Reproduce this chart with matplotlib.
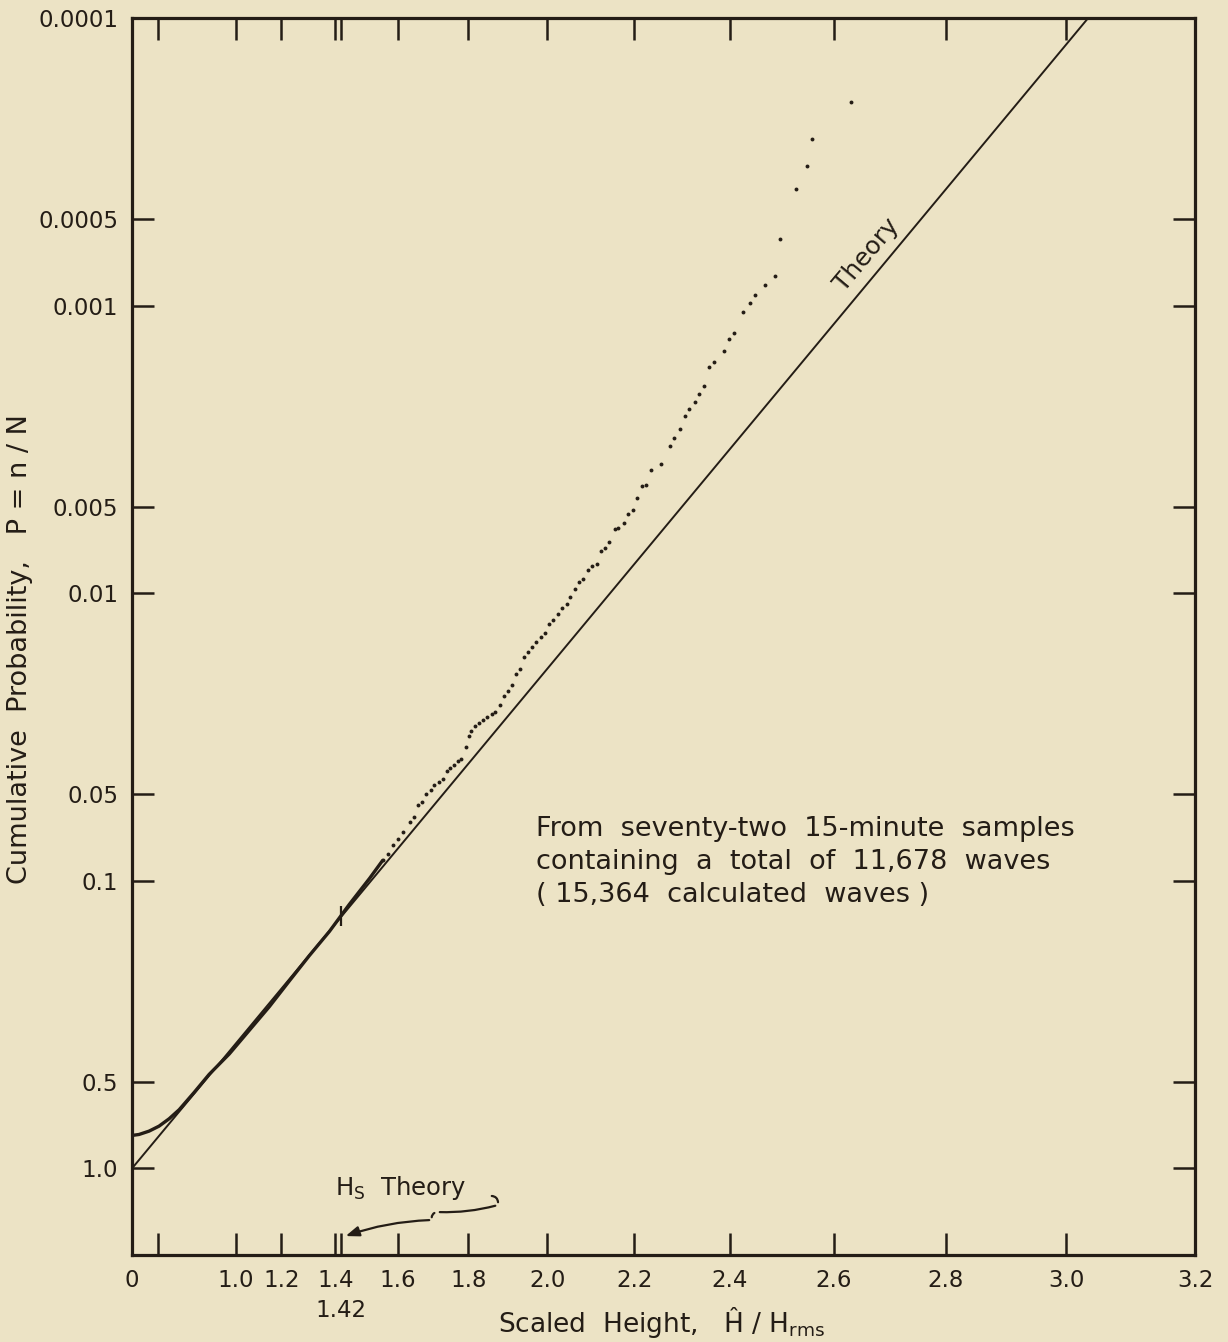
import numpy as np
import matplotlib
matplotlib.use("Agg")
import matplotlib.pyplot as plt
from matplotlib.ticker import NullLocator

# observed dots (scaled height H/Hrms, cumulative probability)
x_obs = [2.631, 2.559, 2.550, 2.529, 2.499, 2.489, 2.469, 2.449, 2.439, 2.427,
         2.408, 2.398, 2.388, 2.368, 2.358, 2.348, 2.338, 2.329, 2.317, 2.308,
         2.297, 2.286, 2.276, 2.258, 2.236, 2.226, 2.216, 2.206, 2.196, 2.185,
         2.176, 2.164, 2.156, 2.144, 2.135, 2.125, 2.116, 2.105, 2.096, 2.084,
         2.075, 2.065, 2.055, 2.046, 2.035, 2.025, 2.015, 2.005, 1.995, 1.984,
         1.973, 1.963, 1.953, 1.943, 1.934, 1.924, 1.914, 1.904, 1.893, 1.884,
         1.869, 1.861, 1.849, 1.839, 1.828, 1.817, 1.808, 1.802, 1.795, 1.781,
         1.772, 1.760, 1.749, 1.743, 1.731, 1.721, 1.707, 1.698, 1.684, 1.672,
         1.659, 1.648, 1.635, 1.615, 1.600, 1.585, 1.570, 1.554]
p_obs = [1.96e-4, 2.63e-4, 3.27e-4, 3.93e-4, 5.87e-4, 7.86e-4, 8.50e-4, 9.16e-4, 9.81e-4, 1.05e-3,
         1.25e-3, 1.31e-3, 1.44e-3, 1.57e-3, 1.64e-3, 1.91e-3, 2.03e-3, 2.17e-3, 2.29e-3, 2.42e-3,
         2.69e-3, 2.88e-3, 3.08e-3, 3.54e-3, 3.74e-3, 4.20e-3, 4.25e-3, 4.65e-3, 5.13e-3, 5.32e-3,
         5.71e-3, 5.93e-3, 5.98e-3, 6.63e-3, 6.97e-3, 7.16e-3, 7.94e-3, 8.03e-3, 8.31e-3, 8.94e-3,
         9.11e-3, 9.66e-3, 1.03e-2, 1.09e-2, 1.13e-2, 1.18e-2, 1.24e-2, 1.28e-2, 1.37e-2, 1.42e-2,
         1.48e-2, 1.54e-2, 1.60e-2, 1.67e-2, 1.83e-2, 1.91e-2, 2.08e-2, 2.18e-2, 2.27e-2, 2.45e-2,
         2.59e-2, 2.64e-2, 2.69e-2, 2.75e-2, 2.82e-2, 2.90e-2, 3.02e-2, 3.14e-2, 3.42e-2, 3.76e-2,
         3.84e-2, 3.96e-2, 4.04e-2, 4.16e-2, 4.41e-2, 4.53e-2, 4.65e-2, 4.82e-2, 5.00e-2, 5.32e-2,
         5.46e-2, 6.00e-2, 6.24e-2, 6.76e-2, 7.13e-2, 7.53e-2, 8.04e-2, 8.49e-2]

# low heights: dots so dense they merge into a solid trace
x_dense = [0.0, 0.260, 0.405, 0.510, 0.598, 0.674, 0.774, 0.862, 0.968, 1.063,
           1.150, 1.231, 1.307, 1.379, 1.447, 1.513, 1.554]
p_dense = [0.768, 0.762, 0.742, 0.713, 0.672, 0.625, 0.544, 0.471, 0.400, 0.331,
           0.274, 0.223, 0.182, 0.150, 0.1207, 0.0980, 0.0849]

# Rayleigh theory, straight on this paper: P = exp(-x^2)
x_theory = [0.0, 3.035]
p_theory = [1.0, 1.0e-4]

hs_x = 1.42
hs_p = 0.133

x_ticks = [0, 0.5, 1.0, 1.2, 1.4, 1.42, 1.6, 1.8, 2.0, 2.2, 2.4, 2.6, 2.8, 3.0, 3.2]
x_labels = ["0", "", "1.0", "1.2", "1.4", "", "1.6", "1.8", "2.0", "2.2", "2.4",
            "2.6", "2.8", "3.0", "3.2"]
y_ticks = [1e-4, 5e-4, 1e-3, 5e-3, 1e-2, 5e-2, 0.1, 0.5, 1.0]
y_labels = ["0.0001", "0.0005", "0.001", "0.005", "0.01", "0.05", "0.1", "0.5", "1.0"]

bg = "#ece3c5"
ink = "#241d16"
plt.rcParams["font.family"] = ["DejaVu Sans"]
plt.rcParams["mathtext.fontset"] = "dejavusans"

fig = plt.figure(figsize=(12.28, 13.42), dpi=100, facecolor=bg)
ax = fig.add_axes([132 / 1228, 1 - 1255 / 1342, 1063 / 1228, 1237 / 1342])
ax.set_facecolor(bg)

ax.set_xscale("function", functions=(lambda v: np.sign(v) * v ** 2,
                                     lambda v: np.sign(v) * np.sqrt(np.abs(v))))
ax.set_yscale("log")
ax.set_xlim(0, 3.2)
ax.set_ylim(2.0, 1e-4)

ax.plot(x_theory, p_theory, color=ink, lw=1.4)
ax.plot(x_dense, p_dense, color=ink, lw=2.4, solid_capstyle="round")
ax.plot(x_obs, p_obs, "o", color=ink, ms=2.8, mew=0)
ax.plot([hs_x], [hs_p], marker="|", color=ink, ms=15, mew=1.6)

ax.set_xticks(x_ticks)
ax.set_xticklabels(x_labels)
ax.set_yticks(y_ticks)
ax.set_yticklabels(y_labels)
ax.xaxis.set_minor_locator(NullLocator())
ax.yaxis.set_minor_locator(NullLocator())
ax.tick_params(direction="in", length=16, width=1.8, color=ink, labelcolor=ink,
               labelsize=16.5, pad=10, top=True, right=True)
for s in ax.spines.values():
    s.set_linewidth(2.3)
    s.set_color(ink)

ax.text(1.42, -0.045, "1.42", transform=ax.get_xaxis_transform(), ha="center",
        va="center", fontsize=16.5, color=ink)

fig.text(662 / 1228, 1 - 1322 / 1342, "Scaled  Height,   Ĥ / H$_{\\rm rms}$",
         ha="center", va="center", fontsize=19, color=ink)
fig.text(20 / 1228, 1 - 649 / 1342, "Cumulative  Probability,   P = n / N",
         rotation=90, ha="center", va="center", fontsize=19.5, color=ink)

ax.text(2.66, 6.67e-4, "Theory", rotation=50, ha="center", va="center",
        fontsize=18, color=ink)

ax.text(0.38, 0.355, "From  seventy-two  15-minute  samples\n"
        "containing  a  total  of  11,678  waves\n"
        "( 15,364  calculated  waves )",
        transform=ax.transAxes, ha="left", va="top", fontsize=19.5,
        linespacing=1.36, color=ink)

ax.text(1.40, 1.17, "H$_{\\rm S}$  Theory", ha="left", va="center",
        fontsize=17.5, color=ink)

# curly leader from the label down to the 1.42 tick (figure pixel positions)
fp = "figure pixels"
lead = dict(arrowstyle="-", color=ink, lw=1.6)
ax.annotate("", xy=(498, 1342 - 1205), xytext=(489, 1342 - 1196),
            xycoords=fp, textcoords=fp,
            arrowprops=dict(lead, connectionstyle="arc3,rad=-0.6"))
ax.annotate("", xy=(437, 1342 - 1212), xytext=(498, 1342 - 1205),
            xycoords=fp, textcoords=fp,
            arrowprops=dict(lead, connectionstyle="arc3,rad=-0.08"))
ax.annotate("", xy=(432, 1342 - 1220), xytext=(437, 1342 - 1212),
            xycoords=fp, textcoords=fp,
            arrowprops=dict(lead, connectionstyle="arc3,rad=0.5"))
ax.annotate("", xy=(343, 1342 - 1237), xytext=(432, 1342 - 1220),
            xycoords=fp, textcoords=fp,
            arrowprops=dict(arrowstyle="-|>,head_length=0.8,head_width=0.3",
                            color=ink, lw=1.6, connectionstyle="arc3,rad=0.08"))

fig.savefig("out.png", dpi=100, facecolor=bg)
